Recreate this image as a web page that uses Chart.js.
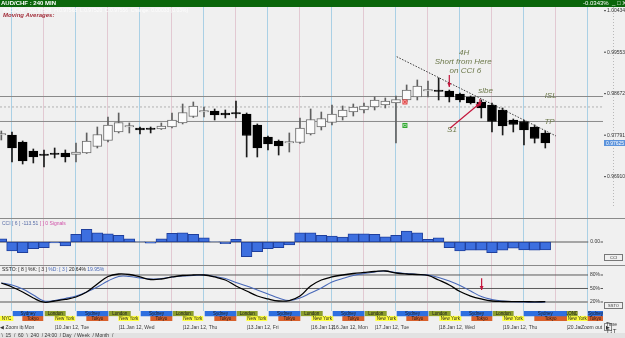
<!DOCTYPE html>
<html>
<head>
<meta charset="utf-8">
<script src="https://cdn.jsdelivr.net/npm/chart.js@4.4.1/dist/chart.umd.min.js"></script>
<style>
  html,body{margin:0;padding:0;}
  body{width:625px;height:338px;overflow:hidden;background:#f0f0f0;position:relative;font-family:"Liberation Sans",Arial,sans-serif;}
  canvas{position:absolute;left:0;}
  .a{position:absolute;white-space:nowrap;}
</style>
</head>
<body>
<canvas id="main" width="625" height="211" style="top:7px"></canvas>
<canvas id="cci" width="625" height="46" style="top:219px"></canvas>
<canvas id="stoch" width="625" height="46" style="top:265px"></canvas>
<canvas id="sess" width="625" height="23" style="top:310px"></canvas>

<div class="a" style="left:0;top:0;width:625px;height:7px;background:#0b660b;"></div>
<div class="a" style="left:1px;top:0;height:7px;line-height:7px;font-size:6px;font-weight:bold;color:#fff;">AUD/CHF : 240 MIN</div>
<div class="a" style="left:583px;top:0;height:7px;line-height:7px;font-size:6px;color:#fff;">-0.0343% &nbsp;_ &#9633; X</div>
<div class="a" style="left:3px;top:7px;font-size:5px;line-height:6px;color:#fdfdfd;">AUD/CHF &nbsp;O:0.97526 &nbsp;H:0.97568 &nbsp;L:0.97520 &nbsp;C:0.97556 &nbsp;Change: 0.00033 (0.03%)</div>
<div class="a" style="left:3px;top:12px;font-size:6px;line-height:6px;color:#a3303c;font-weight:bold;font-style:italic;">Moving Averages:</div>
<div class="a" style="left:0;top:218px;width:625px;height:1px;background:#8a8a8a"></div>
<div class="a" style="left:0;top:265px;width:625px;height:1px;background:#8a8a8a"></div>
<div class="a" style="left:2px;top:219.5px;font-size:5px;line-height:6px;color:#5a6ea8;">CCI [ 6 ] -113.51 <span style="color:#d050a8">[ ] 0 Signals</span></div>
<div class="a" style="left:2px;top:266px;font-size:5px;line-height:6px;color:#222;">SSTO: [ 8 ] %K: [ 3 ] <span style="color:#4868b8">%D: [ 3 ]</span> 20.64% <span style="color:#4868b8">19.95%</span></div>
<div class="a" style="left:604px;top:254px;width:17px;height:5px;border:1px solid #777;font-size:4px;line-height:5px;text-align:center;color:#333;">CCI</div>
<div class="a" style="left:604px;top:302px;width:17px;height:5px;border:1px solid #777;font-size:4px;line-height:5px;text-align:center;color:#333;">SSTO</div>
<div class="a" style="left:0;top:323px;width:21px;height:8px;background:#f0f0f0;font-size:5px;line-height:8px;color:#333;">&#9664; Zoom in</div>
<div class="a" style="left:581px;top:323px;width:24px;height:8px;background:#f0f0f0;font-size:5px;line-height:8px;color:#333;">Zoom out <span style="border:1px solid #888;padding:0 1px;">&#9654;</span></div>
<div class="a" style="left:606px;top:321px;font-size:5px;line-height:6px;color:#333;">Time</div>
<div class="a" style="left:606px;top:328px;font-size:6px;line-height:6px;color:#333;">T&#8597;T</div>
<div class="a" style="left:0;top:333px;width:625px;height:5px;background:#e2e2e2;font-size:5px;line-height:5px;color:#333;">&nbsp;\ &nbsp;15 &nbsp;/ &nbsp;60 &nbsp;\ &nbsp;240 &nbsp;/ 24:00 &nbsp;/ Day &nbsp;/ Week &nbsp;/ Month &nbsp;/</div>

<script>
// ---------- DATA ----------
const barIndex = [-1,0,1,2,3,4,5,6,7,8,9,10,11,12,13,14,15,16,17,18,19,20,21,22,23,24,25,26,27,28,29,30,31,32,33,34,35,36,37,38,39,40,41,42,43,44,45,46,47,48,49,50];
const opens  = [0.97795,0.97795,0.97647,0.97455,0.97392,0.97392,0.97413,0.97381,0.97413,0.97551,0.97678,0.97859,0.97965,0.97944,0.97933,0.97922,0.97965,0.98050,0.98188,0.98283,0.98305,0.98262,0.98251,0.98241,0.98007,0.97753,0.97668,0.97625,0.97636,0.97816,0.97965,0.98060,0.98177,0.98283,0.98326,0.98390,0.98432,0.98474,0.98538,0.98602,0.98729,0.98740,0.98729,0.98665,0.98602,0.98496,0.98432,0.98326,0.98113,0.98082,0.97965,0.97838];
const highs  = [0.97880,0.97859,0.97668,0.97498,0.97477,0.97519,0.97477,0.97625,0.97838,0.97965,0.98177,0.98262,0.98050,0.97965,0.97965,0.98050,0.98262,0.98453,0.98496,0.98390,0.98347,0.98326,0.98517,0.98262,0.98029,0.97774,0.97689,0.97838,0.98156,0.98347,0.98283,0.98432,0.98411,0.98453,0.98474,0.98602,0.98581,0.98623,0.98857,0.98963,0.98941,0.99005,0.98750,0.98687,0.98623,0.98538,0.98474,0.98368,0.98135,0.98113,0.98007,0.97880];
const lows   = [0.97689,0.97222,0.97179,0.97201,0.97116,0.97307,0.97222,0.97222,0.97402,0.97519,0.97647,0.97838,0.97838,0.97816,0.97838,0.97912,0.97944,0.98029,0.98167,0.98177,0.98113,0.98156,0.98156,0.97328,0.97328,0.97477,0.97370,0.97434,0.97615,0.97795,0.97901,0.98007,0.98113,0.98198,0.98262,0.98326,0.98368,0.97625,0.98496,0.98538,0.98602,0.98538,0.98496,0.98496,0.98453,0.98156,0.97859,0.97795,0.97859,0.97583,0.97625,0.97519];
const closes = [0.97816,0.97519,0.97243,0.97328,0.97360,0.97381,0.97328,0.97434,0.97668,0.97806,0.98007,0.98060,0.97986,0.97901,0.97912,0.97986,0.98113,0.98273,0.98411,0.98305,0.98220,0.98220,0.98241,0.97784,0.97519,0.97604,0.97562,0.97647,0.97944,0.98124,0.98145,0.98241,0.98326,0.98390,0.98411,0.98538,0.98517,0.98549,0.98750,0.98835,0.98740,0.98719,0.98602,0.98538,0.98474,0.98368,0.98082,0.97986,0.98018,0.97901,0.97721,0.97625];

const cciValues = [47,-128,-152,-95,-81,-14,-57,109,180,132,118,95,47,4,-18,47,124,132,109,61,2,-24,38,-209,-138,-95,-81,-43,132,132,95,85,71,118,118,109,75,95,156,132,38,61,-81,-128,-118,-118,-152,-118,-89,-114,-118,-113.51];
const stochK = [62.2,53.3,42.2,28.9,19.5,22.2,25.6,31.1,42.2,60.0,76.7,82.2,81.1,75.6,70.0,71.1,75.6,78.9,80.0,80.0,75.6,68.9,55.6,44.4,33.3,26.7,22.2,23.3,33.3,55.6,68.9,75.6,80.0,83.3,85.6,87.8,88.9,84.4,82.2,81.1,78.9,68.9,57.8,43.3,33.3,26.7,22.2,21.1,20.7,20.7,20.4,20.64];
const stochD = [62.2,57.8,48.9,35.6,22.2,23.3,27.8,33.3,42.2,53.3,66.7,76.7,76.7,73.3,71.1,72.2,75.6,77.8,78.9,80.0,76.7,72.2,63.3,55.6,46.7,37.8,28.9,23.3,28.9,40.0,51.1,64.4,72.2,78.9,83.3,86.7,88.9,85.6,83.3,81.1,80.0,74.4,66.7,56.7,44.4,32.2,25.6,22.2,20.7,20.0,19.3,19.95];

const priceTicks = [1.00434, 0.99553, 0.98672, 0.97791, 0.96910];
const stochLevels = [80, 50, 20];
const gridTicks = [0,3,6,9,12,15,18,21,24,27,30,33,36,39,42,45,48,51,54];
const dayTicks  = [-1, 4, 10, 16, 22, 28, 30, 34, 40, 46, 52];
const dayLabels = ['9.Jan 12, Mon','10.Jan 12, Tue','11.Jan 12, Wed','12.Jan 12, Thu','13.Jan 12, Fri','16.Jan 12,','16.Jan 12, Mon','17.Jan 12, Tue','18.Jan 12, Wed','19.Jan 12, Thu','20.Jan 12, Fri'];

const islLevel = 0.98612, midLevel = 0.98390, tpLevel = 0.98082;
const trendX = [36.07, 51.0], trendY = [0.99457, 0.97774];

const noteText = ['4H','Short from Here','on CCI 6','slbe','ISL','TP','S1'];
const noteX = [42.4, 42.3, 42.5, 44.4, 50.5, 50.4, 41.25];
const noteY = [0.99536, 0.99345, 0.99154, 0.98729, 0.98623, 0.98071, 0.97912];
const arrowFromX = [41.0, 41.06, 43.87], arrowFromY = [0.99069, 0.97937, 0.98559];
const arrowToX   = [41.0, 43.87, 43.87], arrowToY   = [0.98814, 0.98468, 0.98411];
const signalX = [36.84, 36.84], signalY = [0.98496, 0.97997];
const stochArrowX = [44.03], stochArrowFrom = [72.7], stochArrowTo = [46.7];

const sessionRows = ['top','bottom'];
const sydney  = [[0.1,2.9],[6.1,9.0],[12.1,15.0],[18.1,21.0],[24.1,27.0],[30.1,33.0],[36.1,39.0],[42.1,45.0],[48.0,52.0],[54.0,55.6]];
const london  = [[3.1,5.0],[9.1,11.1],[15.1,17.0],[21.1,23.0],[27.1,29.1],[33.1,35.1],[39.1,41.1],[45.1,47.0]];
const londShort = [[52.0,53.0]];
const tokyo   = [[1.0,2.9],[7.0,9.0],[13.0,15.0],[19.0,21.0],[25.0,27.0],[31.0,33.0],[37.0,39.0],[43.1,45.0],[49.0,52.0],[54.0,55.6]];
const newYork = [[4.0,5.9],[10.0,11.9],[16.0,17.9],[22.0,23.9],[28.1,30.1],[34.1,36.1],[40.1,42.1],[46.0,48.0],[52.0,54.0]];
const nyc     = [[-1.2,0.1]];

// ---------- VIEW ----------
const X_MIN = -1.125, X_MAX = 55.41;
const FONT = '"Liberation Sans", Arial, sans-serif';

function xScale(){
  return {
    type:'linear', min:X_MIN, max:X_MAX, bounds:'data', offset:false,
    afterBuildTicks: s => { s.ticks = gridTicks.map(v => ({value:v})); },
    afterFit: s => { s.height = 0; },
    ticks:{display:false}, border:{display:false},
    grid:{drawTicks:false, offset:false, lineWidth:1,
      color: c => (c.tick && c.tick.value % 6 === 0) ? 'rgba(165,205,228,0.95)' : 'rgba(224,198,208,0.95)'}
  };
}
function baseOptions(ymin, ymax){
  return {
    responsive:false, animation:false, events:[],
    layout:{padding:{left:0,right:22,top:0,bottom:0}},
    plugins:{legend:{display:false}, tooltip:{enabled:false}},
    scales:{x:xScale(), y:{type:'linear', display:false, min:ymin, max:ymax, bounds:'data'}}
  };
}
function hLine(v, color, w, dash){
  return {type:'line', data:[{x:X_MIN,y:v},{x:X_MAX,y:v}], borderColor:color, borderWidth:w, borderDash:dash||[], pointRadius:0, order:9};
}
function drawArrow(ctx,x1,y1,x2,y2,color){
  ctx.strokeStyle=color; ctx.fillStyle=color; ctx.lineWidth=1.2;
  ctx.beginPath(); ctx.moveTo(x1,y1); ctx.lineTo(x2,y2); ctx.stroke();
  const a=Math.atan2(y2-y1,x2-x1), h=4.5;
  ctx.beginPath(); ctx.moveTo(x2,y2);
  ctx.lineTo(x2-h*Math.cos(a-0.45), y2-h*Math.sin(a-0.45));
  ctx.lineTo(x2-h*Math.cos(a+0.45), y2-h*Math.sin(a+0.45));
  ctx.closePath(); ctx.fill();
}
function panelLabel(chart, value, text){
  const ctx=chart.ctx, r=chart.chartArea.right, py=chart.scales.y.getPixelForValue(value);
  ctx.save();
  ctx.font='5px '+FONT; const w=ctx.measureText(text).width;
  ctx.fillStyle='#f0f0f0'; ctx.fillRect(r-w-5, py-3, w+5, 6);
  ctx.fillStyle='#333'; ctx.textAlign='right'; ctx.textBaseline='middle';
  ctx.fillText(text, r-3, py);
  ctx.strokeStyle='#555'; ctx.lineWidth=1; ctx.beginPath(); ctx.moveTo(r-2.5,py); ctx.lineTo(r,py); ctx.stroke();
  ctx.restore();
}

// ---------- MAIN PRICE PANEL ----------
const isUp = closes.map((c,i) => c >= opens[i]);
const mainPlugin = {
  id:'mainDecor',
  afterDraw(chart){
    const {ctx, chartArea, scales:{x, y}} = chart;
    const r = chartArea.right;
    ctx.save();
    ctx.strokeStyle='#b8b8b8'; ctx.setLineDash([1,2]); ctx.lineWidth=1;
    ctx.beginPath(); ctx.moveTo(613.5,0); ctx.lineTo(613.5,200); ctx.stroke(); ctx.setLineDash([]);
    ctx.font='5px '+FONT; ctx.textBaseline='middle'; ctx.textAlign='left';
    priceTicks.forEach(v => {
      const py=y.getPixelForValue(v);
      ctx.strokeStyle='#444'; ctx.beginPath(); ctx.moveTo(r+1,py); ctx.lineTo(r+3,py); ctx.stroke();
      ctx.fillStyle='#333'; ctx.fillText(v.toFixed(5), r+4, py);
    });
    const last = closes[closes.length-1], lp = y.getPixelForValue(last);
    ctx.fillStyle='#5b93dc'; ctx.fillRect(r+1, lp-3, 21, 6);
    ctx.fillStyle='#fff'; ctx.fillText(last.toFixed(5), r+3, lp+0.3);
    ctx.font='italic 8px '+FONT; ctx.fillStyle='#6e7a4c'; ctx.textAlign='center';
    noteText.forEach((t,i) => ctx.fillText(t, x.getPixelForValue(noteX[i]), y.getPixelForValue(noteY[i])));
    arrowFromX.forEach((v,i) => drawArrow(ctx, x.getPixelForValue(v), y.getPixelForValue(arrowFromY[i]),
      x.getPixelForValue(arrowToX[i]), y.getPixelForValue(arrowToY[i]), '#c4163c'));
    const sc=['#e23a3a','#2da82d'];
    signalX.forEach((v,i) => {
      const px=x.getPixelForValue(v), py=y.getPixelForValue(signalY[i]);
      ctx.fillStyle=sc[i]; ctx.fillRect(px-2.5, py-2.5, 5, 5);
      ctx.strokeStyle='rgba(255,255,255,0.8)'; ctx.lineWidth=0.6; ctx.strokeRect(px-1.2, py-1.2, 2.4, 2.4);
    });
    ctx.restore();
  }
};
new Chart(document.getElementById('main'), {
  type:'bar',
  data:{datasets:[
    hLine(islLevel,'#8a8a8a',1),
    hLine(midLevel,'#b2b2b2',1,[2,2]),
    hLine(tpLevel,'#8a8a8a',1),
    {type:'bar', data: barIndex.map((k,i)=>({x:k, y:[lows[i], highs[i]]})),
      backgroundColor: isUp.map(u => u ? '#606060' : '#1a1a1a'), barThickness:1, grouped:false, order:8},
    {type:'bar', data: barIndex.map((k,i)=>({x:k, y:[opens[i], closes[i]]})),
      backgroundColor: isUp.map(u => u ? '#fbfbfb' : '#000000'), borderColor: isUp.map(u => u ? '#6a6a6a' : '#000000'),
      borderWidth:1, borderSkipped:false, barThickness:9, minBarLength:1.5, grouped:false, order:7},
    {type:'line', data:[{x:trendX[0],y:trendY[0]},{x:trendX[1],y:trendY[1]}], borderColor:'#3a3a3a', borderWidth:1, borderDash:[1.5,1.5], pointRadius:0, order:1}
  ]},
  options: baseOptions(0.96033, 1.00512),
  plugins:[mainPlugin]
});

// ---------- CCI PANEL ----------
new Chart(document.getElementById('cci'), {
  type:'bar',
  data:{datasets:[
    hLine(0,'#5a5a5a',1),
    {type:'bar', data: barIndex.map((k,i)=>({x:k, y:cciValues[i]})), backgroundColor:'#3d6fdf', borderColor:'#1f3f9c',
      borderWidth:1, borderSkipped:false, barThickness:10.67, grouped:false, order:2}
  ]},
  options: baseOptions(-330, 330),
  plugins:[{id:'cciDecor', afterDraw(chart){ panelLabel(chart, 0, '0.00'); }}]
});

// ---------- STOCHASTIC PANEL ----------
new Chart(document.getElementById('stoch'), {
  type:'line',
  data:{datasets:[
    ...stochLevels.map(v => hLine(v, v === 20 ? '#a2a2a2' : '#5a5a5a', v === 20 ? 2 : 1)),
    {data: barIndex.map((k,i)=>({x:k, y:stochD[i]})), borderColor:'#4868b8', borderWidth:1.1, pointRadius:0, tension:0.4, order:2},
    {data: barIndex.map((k,i)=>({x:k, y:stochK[i]})), borderColor:'#000000', borderWidth:1.3, pointRadius:0, tension:0.4, order:1}
  ]},
  options: baseOptions(0, 102.2),
  plugins:[{id:'stochDecor', afterDraw(chart){
    stochLevels.forEach(v => panelLabel(chart, v, v + '%'));
    const {ctx, scales:{x,y}} = chart;
    ctx.save();
    stochArrowX.forEach((v,i) => drawArrow(ctx, x.getPixelForValue(v), y.getPixelForValue(stochArrowFrom[i]),
      x.getPixelForValue(v), y.getPixelForValue(stochArrowTo[i]), '#c4163c'));
    ctx.restore();
  }}]
});

// ---------- SESSIONS + DATE AXIS ----------
function sessSet(blocks, row, color, name){
  return {data: blocks.map(b => ({x:b, y:row})), backgroundColor:color, borderWidth:0, barThickness:4.6, grouped:false, sessName:name, blocks:blocks, row:row};
}
const sessData = [
  sessSet(sydney,'top','#2e6fe0','Sydney'),
  sessSet(london,'top','#8c9e2e','London'),
  sessSet(londShort,'top','#8c9e2e','LOND'),
  sessSet(tokyo,'bottom','#d8602c','Tokyo'),
  sessSet(newYork,'bottom','#ffff40','New York'),
  sessSet(nyc,'bottom','#ffff40','NYC')
];
new Chart(document.getElementById('sess'), {
  type:'bar',
  data:{labels: sessionRows, datasets: sessData},
  options:{
    indexAxis:'y', responsive:false, animation:false, events:[],
    layout:{padding:{left:0,right:22,top:1,bottom:12}},
    plugins:{legend:{display:false}, tooltip:{enabled:false}},
    scales:{
      x:{type:'linear', display:false, min:X_MIN, max:X_MAX, bounds:'data'},
      y:{type:'category', display:false, offset:true}
    }
  },
  plugins:[{id:'sessDecor', afterDraw(chart){
    const {ctx, chartArea, scales:{x,y}} = chart;
    ctx.save();
    ctx.font='4.5px '+FONT; ctx.textAlign='center'; ctx.textBaseline='middle'; ctx.fillStyle='#1a1a1a';
    chart.data.datasets.forEach(ds => {
      ds.blocks.forEach(b => {
        const x1=Math.max(x.getPixelForValue(b[0]), chartArea.left), x2=Math.min(x.getPixelForValue(b[1]), chartArea.right);
        const yc=y.getPixelForValue(sessionRows.indexOf(ds.row));
        ctx.save(); ctx.beginPath(); ctx.rect(x1, yc-2.5, x2-x1, 5); ctx.clip();
        ctx.fillText(ds.sessName, (x1+x2)/2, yc+0.3);
        ctx.restore();
      });
    });
    ctx.font='5px '+FONT; ctx.textAlign='left'; ctx.fillStyle='#3a3a3a';
    dayTicks.forEach((v,i) => ctx.fillText('|' + dayLabels[i], x.getPixelForValue(v), chartArea.bottom + 6.5));
    ctx.restore();
  }}]
});
</script>
</body>
</html>
